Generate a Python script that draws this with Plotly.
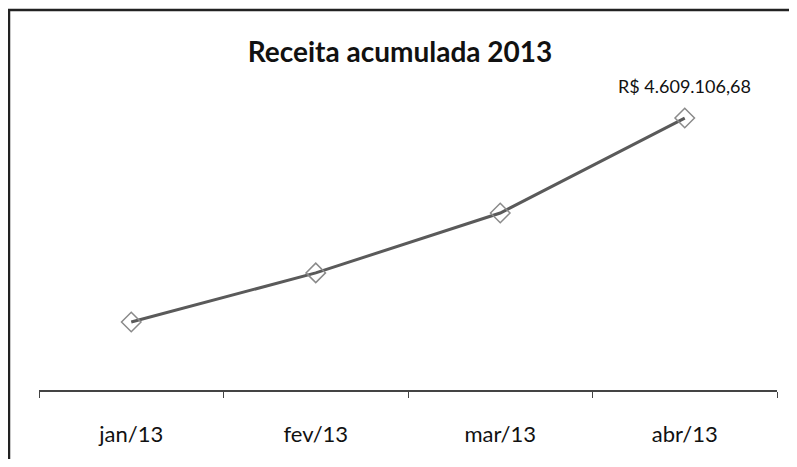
import plotly.graph_objects as go

months = ["jan/13", "fev/13", "mar/13", "abr/13"]
receita = [1152000, 1985000, 3000000, 4609106.68]
y_max = 5000000

def brl(v):
    s = f"{v:,.2f}".replace(",", "X").replace(".", ",").replace("X", ".")
    return "R$ " + s

OFF = 8  # page body margin
W, H = 797 - 2 * OFF, 467 - 2 * OFF

fig = go.Figure()
fig.add_trace(go.Scatter(
    x=months, y=receita, mode="lines+markers",
    line=dict(color="#5a5a5a", width=3),
    marker=dict(symbol="diamond-open", size=15, color="#8a8a8a", line=dict(width=1.5, color="#8a8a8a")),
    cliponaxis=False, showlegend=False,
))

# plot area in reference-pixel coordinates
X0, X1, Y0, Y1 = 39, 777, 95, 390
L, T = X0 - OFF, Y0 - OFF
R = (W + OFF) - X1
B = (H + OFF) - Y1
pw, ph = X1 - X0, Y1 - Y0
def px(x): return (x - X0) / pw
def py(y): return (Y1 - y) / ph

fig.add_annotation(x=months[-1], y=receita[-1], text=brl(receita[-1]), showarrow=False,
                   yshift=32, font=dict(family="Lato, Open Sans, sans-serif", size=18, color="#111"))

fig.update_layout(
    width=W, height=H,
    margin=dict(l=L, r=R, t=T, b=B),
    paper_bgcolor="white", plot_bgcolor="white",
    title=dict(text="<b>Receita acumulada 2013</b>", x=(400 - OFF) / W, xanchor="center",
               y=1 - (52 - OFF) / H, yanchor="middle",
               font=dict(family="Lato, Open Sans, sans-serif", size=28, color="#111")),
    xaxis=dict(type="category", range=[-0.5, 3.5], showline=True, linecolor="#444", linewidth=1.5,
               ticks="outside", tickson="boundaries", ticklen=6, tickcolor="#444",
               showgrid=False, zeroline=False,
               tickfont=dict(family="Lato, Open Sans, sans-serif", size=22, color="#111"),
               ticklabelstandoff=24),
    yaxis=dict(range=[0, y_max], visible=False, showgrid=False, zeroline=False),
    shapes=[
        dict(type="rect", xref="paper", yref="paper", x0=px(9), x1=px(1400), y0=py(10), y1=py(1200),
             line=dict(color="#222", width=2.5), fillcolor="rgba(0,0,0,0)", layer="below"),
    ],
)
fig.write_html("out.html")
